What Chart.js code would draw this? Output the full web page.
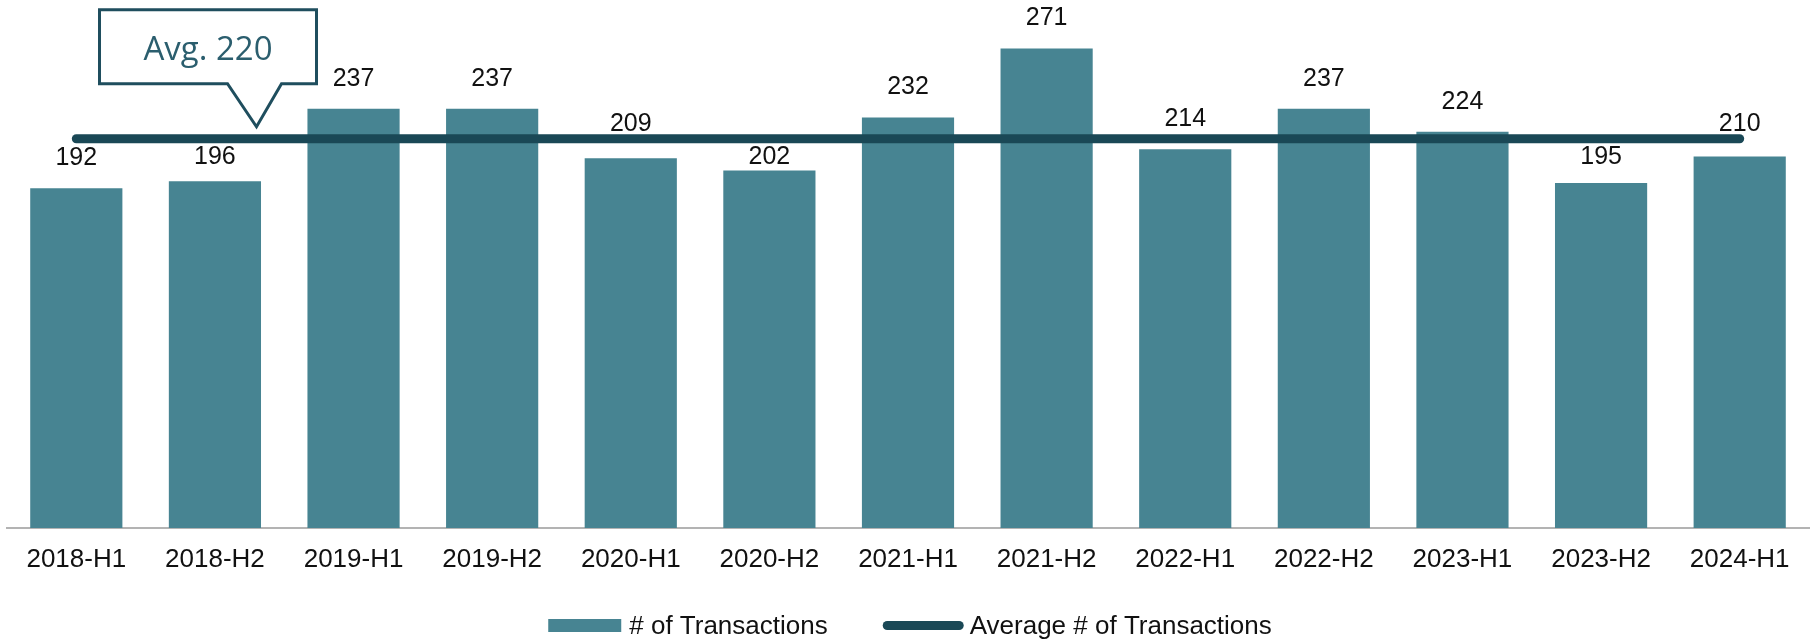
<!DOCTYPE html>
<html>
<head>
<meta charset="utf-8">
<script src="https://cdn.jsdelivr.net/npm/chart.js@4.4.1/dist/chart.umd.min.js"></script>
<style>
  html, body { margin: 0; padding: 0; background: #ffffff; }
  #wrap { width: 1812px; height: 641px; position: relative; }
</style>
</head>
<body>
<div id="wrap"><canvas id="c"></canvas></div>
<script>
const categories = ['2018-H1','2018-H2','2019-H1','2019-H2','2020-H1','2020-H2','2021-H1','2021-H2','2022-H1','2022-H2','2023-H1','2023-H2','2024-H1'];
const transactions = [192, 196, 237, 237, 209, 202, 232, 271, 214, 237, 224, 195, 210];
const averageTransactions = [220, 220, 220, 220, 220, 220, 220, 220, 220, 220, 220, 220, 220];
const seriesNames = ['# of Transactions', 'Average # of Transactions'];

const BAR_COLOR = '#478492';
const LINE_COLOR = '#1a4856';
const CALLOUT_COLOR = '#1f4e5e';
const CALLOUT_TEXT = '#2b5e6e';
const TEXT_COLOR = '#111111';
const LINE_WIDTH = 9;

const barLabelsPlugin = {
  id: 'barLabels',
  afterDatasetsDraw(chart) {
    const ctx = chart.ctx;
    const meta = chart.getDatasetMeta(0);
    const y = chart.scales.y;
    const avgY = y.getPixelForValue(averageTransactions[0]);
    const lineTop = avgY - LINE_WIDTH / 2, lineBottom = avgY + LINE_WIDTH / 2;
    const capH = 19;
    ctx.save();
    ctx.font = '25px "Liberation Sans", Arial, sans-serif';
    ctx.fillStyle = TEXT_COLOR;
    ctx.textAlign = 'center';
    ctx.textBaseline = 'alphabetic';
    meta.data.forEach((bar, i) => {
      const barTop = bar.y;
      let base = barTop - 23;
      if (base - capH < lineBottom + 2 && base > lineTop - 2) {
        const below = lineBottom + 2 + capH;
        base = (below <= barTop - 6) ? below : lineTop - 3;
      }
      ctx.fillText(String(transactions[i]), bar.x, base);
    });
    ctx.restore();
  }
};

const calloutPlugin = {
  id: 'callout',
  afterDatasetsDraw(chart) {
    const ctx = chart.ctx;
    const x = chart.scales.x, y = chart.scales.y;
    const step = x.getPixelForValue(1) - x.getPixelForValue(0);
    const tipX = x.getPixelForValue(1) + 0.3 * step;
    const tipY = y.getPixelForValue(averageTransactions[0]) - 12;
    const bottom = tipY - 43, top = bottom - 74;
    const left = tipX - 157, right = tipX + 60;
    ctx.save();
    ctx.beginPath();
    ctx.moveTo(left, top);
    ctx.lineTo(right, top);
    ctx.lineTo(right, bottom);
    ctx.lineTo(tipX + 25, bottom);
    ctx.lineTo(tipX, tipY);
    ctx.lineTo(tipX - 29, bottom);
    ctx.lineTo(left, bottom);
    ctx.closePath();
    ctx.fillStyle = '#ffffff';
    ctx.fill();
    ctx.lineWidth = 3;
    ctx.strokeStyle = CALLOUT_COLOR;
    ctx.lineJoin = 'miter';
    ctx.stroke();
    ctx.font = '33px "Open Sans", sans-serif';
    ctx.fillStyle = CALLOUT_TEXT;
    ctx.textAlign = 'center';
    ctx.textBaseline = 'alphabetic';
    ctx.fillText('Avg. ' + averageTransactions[0], (left + right) / 2, top + 50);
    ctx.restore();
  }
};

const legendPlugin = {
  id: 'customLegend',
  afterDraw(chart) {
    const ctx = chart.ctx;
    ctx.save();
    ctx.font = '26px "Liberation Sans", Arial, sans-serif';
    const w1 = ctx.measureText(seriesNames[0]).width;
    const w2 = ctx.measureText(seriesNames[1]).width;
    const boxW = 73, lineW = 81, gapText = 8, gapItems = 55;
    const total = boxW + gapText + w1 + gapItems + lineW + 6 + w2;
    const cx = (chart.chartArea.left + chart.chartArea.right) / 2 + 2;
    let xx = cx - total / 2;
    const cy = 625.5;
    ctx.fillStyle = BAR_COLOR;
    ctx.fillRect(xx, cy - 6.5, boxW, 13);
    xx += boxW + gapText;
    ctx.fillStyle = TEXT_COLOR;
    ctx.textBaseline = 'middle';
    ctx.textAlign = 'left';
    ctx.fillText(seriesNames[0], xx, cy + 1);
    xx += w1 + gapItems;
    ctx.strokeStyle = LINE_COLOR;
    ctx.lineWidth = LINE_WIDTH;
    ctx.lineCap = 'round';
    ctx.beginPath();
    ctx.moveTo(xx + 4.5, cy);
    ctx.lineTo(xx + lineW - 4.5, cy);
    ctx.stroke();
    xx += lineW + 6;
    ctx.fillText(seriesNames[1], xx, cy + 1);
    ctx.restore();
  }
};

new Chart(document.getElementById('c'), {
  data: {
    labels: categories,
    datasets: [
      {
        type: 'bar',
        label: seriesNames[0],
        data: transactions,
        backgroundColor: BAR_COLOR,
        borderWidth: 0,
        categoryPercentage: 1.0,
        barPercentage: 0.665,
        order: 1
      },
      {
        type: 'line',
        label: seriesNames[1],
        data: averageTransactions,
        borderColor: LINE_COLOR,
        borderWidth: LINE_WIDTH,
        borderCapStyle: 'round',
        pointRadius: 0,
        pointHoverRadius: 0,
        fill: false,
        tension: 0,
        order: 0
      }
    ]
  },
  options: {
    responsive: true,
    maintainAspectRatio: false,
    animation: false,
    devicePixelRatio: 1,
    layout: { padding: { left: 7, right: 3, top: 0, bottom: 0 } },
    plugins: {
      legend: { display: false },
      tooltip: { enabled: false }
    },
    scales: {
      x: {
        offset: true,
        grid: { display: false, drawTicks: false },
        border: { display: true, color: '#b3b3b3', width: 2 },
        ticks: {
          color: TEXT_COLOR,
          font: { family: '"Liberation Sans", Arial, sans-serif', size: 26 },
          padding: 16,
          maxRotation: 0,
          autoSkip: false
        },
        afterFit(scale) { scale.height = 113; }
      },
      y: {
        display: false,
        min: 0,
        max: 298.4
      }
    }
  },
  plugins: [barLabelsPlugin, calloutPlugin, legendPlugin]
});
</script>
</body>
</html>
